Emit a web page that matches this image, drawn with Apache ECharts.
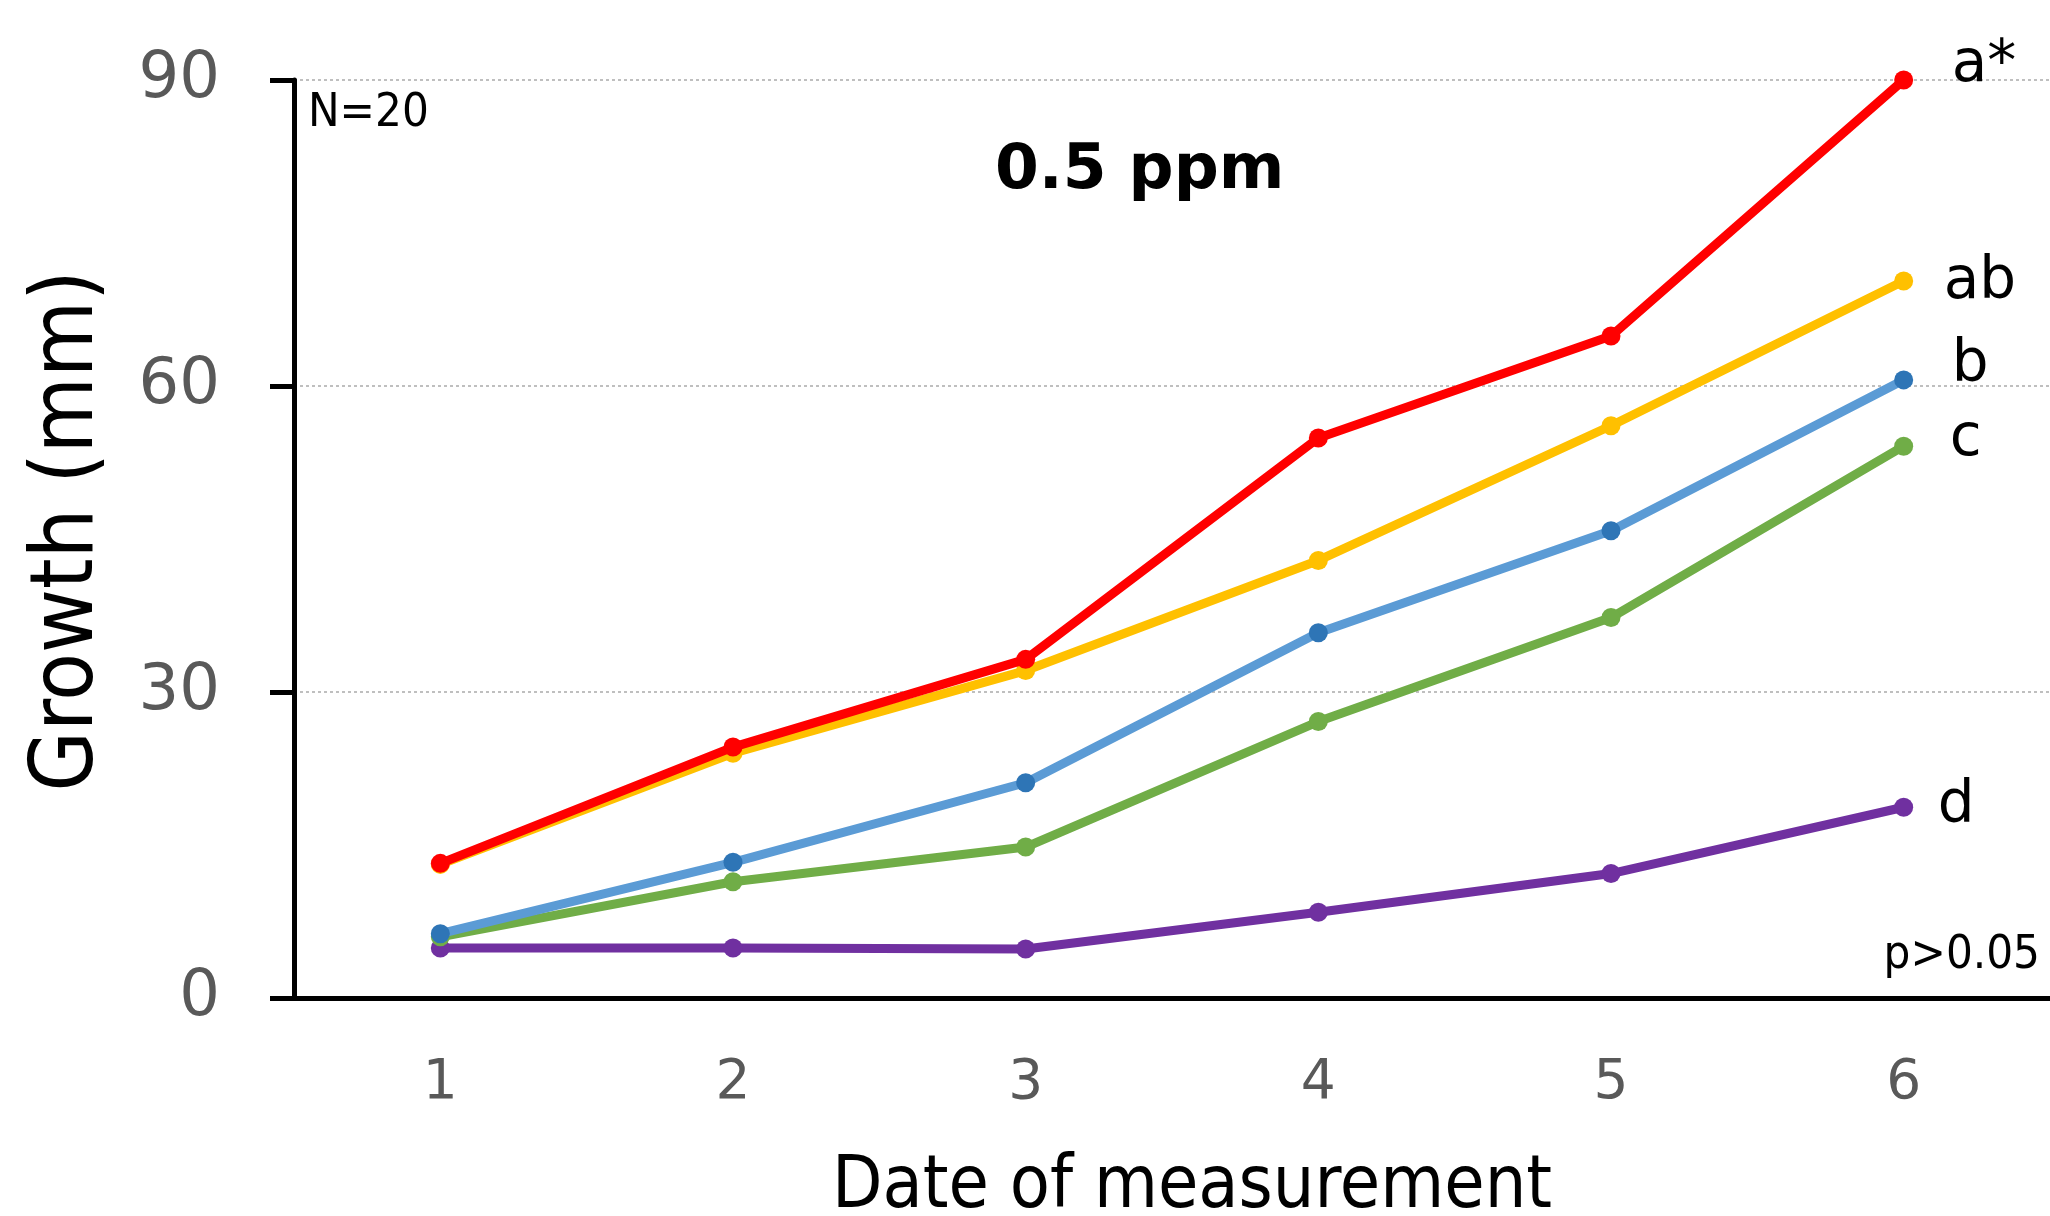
<!DOCTYPE html>
<html>
<head>
<meta charset="utf-8">
<script src="https://cdn.jsdelivr.net/npm/echarts@6/dist/echarts.min.js"></script>
<style>
  html, body { margin: 0; padding: 0; background: #fff; }
  #chart { width: 2050px; height: 1216px; }
</style>
</head>
<body>
<div id="chart"></div>
<script>
// measurement dates
const dates = ["1", "2", "3", "4", "5", "6"];
const yTicks = [0, 30, 60, 90];

// growth (mm) per group
const redGrowth = [13.2, 24.6, 33.2, 54.9, 64.9, 90.0];
const yellowGrowth = [13.1, 24.0, 32.1, 42.9, 56.1, 70.3];
const blueGrowth = [6.3, 13.3, 21.1, 35.8, 45.8, 60.6];
const greenGrowth = [6.0, 11.4, 14.8, 27.1, 37.3, 54.1];
const purpleGrowth = [4.9, 4.9, 4.8, 8.4, 12.2, 18.7];

// significance letters at the line ends
const groupLetters = ["a*", "ab", "b", "c", "d"];

const chart = echarts.init(document.getElementById("chart"));

const makeLine = (name, data, lineColor, dotColor, letter, offset, z) => ({
  name,
  type: "line",
  data,
  z,
  symbol: "circle",
  symbolSize: 19,
  showSymbol: true,
  lineStyle: { color: lineColor, width: 9 },
  itemStyle: { color: dotColor },
  emphasis: { disabled: true },
  endLabel: {
    show: true,
    formatter: () => letter,
    color: "#000",
    fontFamily: "DejaVu Sans",
    fontSize: 58,
    distance: 0,
    offset,
  },
  animation: false,
});

chart.setOption({
  animation: false,
  backgroundColor: "#fff",
  grid: { left: 294, right: 0, top: 80, bottom: 218, outerBoundsMode: "none", containLabel: false },
  xAxis: {
    type: "category",
    data: dates,
    boundaryGap: true,
    name: "Date of measurement",
    nameLocation: "middle",
    nameGap: 154,
    nameTextStyle: { fontFamily: "DejaVu Sans Condensed", fontSize: 73, color: "#000", padding: [0, 0, 0, 40] },
    axisLine: { lineStyle: { color: "#000", width: 5 } },
    axisTick: { show: false },
    axisLabel: { margin: 58, fontFamily: "DejaVu Sans", fontSize: 55, color: "#595959" },
    splitLine: { show: false },
  },
  yAxis: {
    type: "value",
    min: yTicks[0],
    max: yTicks[yTicks.length - 1],
    interval: 30,
    name: "Growth (mm)",
    nameLocation: "middle",
    nameGap: 181,
    nameTextStyle: { fontFamily: "DejaVu Sans Condensed", fontSize: 87, color: "#000", padding: [0, 0, 0, 16] },
    axisLine: { show: true, lineStyle: { color: "#000", width: 5 } },
    axisTick: { show: true, length: 24, lineStyle: { color: "#000", width: 5 } },
    axisLabel: { margin: 74, fontFamily: "DejaVu Sans", fontSize: 64, color: "#595959" },
    splitLine: { show: true, lineStyle: { color: "#bfbfbf", width: 2, type: [3, 3] } },
  },
  graphic: [
    {
      type: "text",
      left: 1137 - 142,
      top: 140,
      style: { text: "0.5 ppm", fontFamily: "DejaVu Sans", fontWeight: "bold", fontSize: 63, fill: "#000" },
    },
    {
      type: "text",
      left: 308,
      top: 90,
      style: { text: "N=20", fontFamily: "DejaVu Sans Condensed", fontSize: 47, fill: "#000" },
    },
    {
      type: "text",
      right: 10,
      top: 932,
      style: { text: "p>0.05", fontFamily: "DejaVu Sans Condensed", fontSize: 47, fill: "#000" },
    },
  ],
  series: [
    makeLine("d", purpleGrowth, "#7030A0", "#7030A0", groupLetters[4], [34, 0], 2),
    makeLine("c", greenGrowth, "#70AD47", "#70AD47", groupLetters[3], [46, -6], 3),
    makeLine("b", blueGrowth, "#5B9BD5", "#2E75B6", groupLetters[2], [48, -14], 4),
    makeLine("ab", yellowGrowth, "#FFC000", "#FFC000", groupLetters[1], [40, 2], 5),
    makeLine("a*", redGrowth, "#FF0000", "#FF0000", groupLetters[0], [48, -14], 6),
  ],
});
</script>
</body>
</html>
